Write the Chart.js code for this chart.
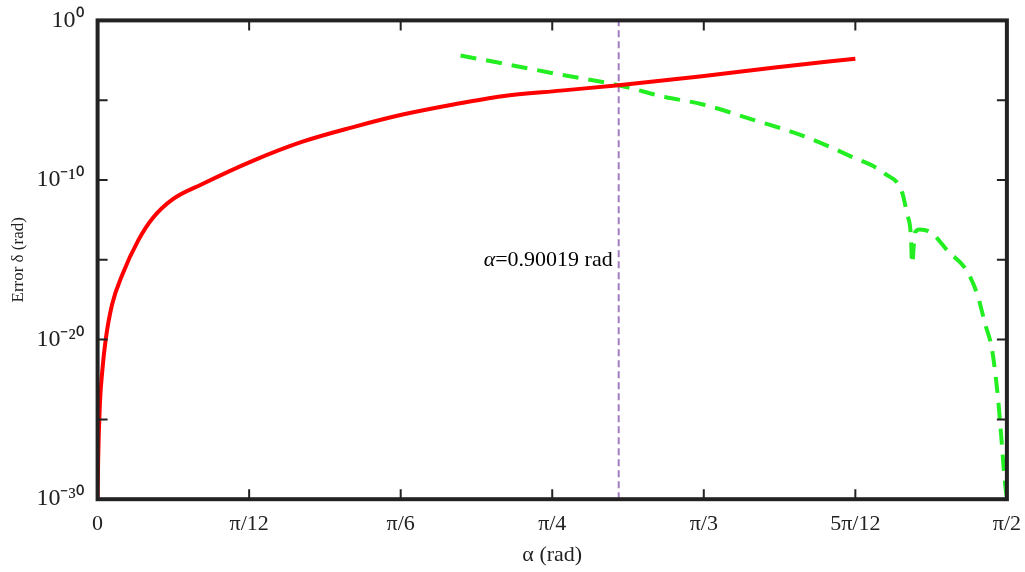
<!DOCTYPE html>
<html><head><meta charset="utf-8">
<script src="https://cdn.jsdelivr.net/npm/chart.js@4/dist/chart.umd.min.js"></script>
<style>html,body{margin:0;background:#fff}#wrap{width:1025px;height:572px}</style>
</head><body><div id="wrap"><canvas id="c"></canvas></div>
<script>
// alpha (rad) and log10(error)
const redAlpha = [0, 0.001, 0.004, 0.008, 0.014, 0.025, 0.043, 0.07, 0.095, 0.13, 0.181, 0.268, 0.354, 0.44, 0.527, 0.61, 0.699, 0.80, 0.900, 1.044, 1.17, 1.309];
const redLog = [-30, -27.5, -24, -22, -20, -17.8, -15.9, -13.8, -12.4, -11.2, -10.25, -8.8, -7.6, -6.7, -5.9, -5.3, -4.75, -4.4, -4.06, -3.5, -2.95, -2.4];
const greenAlpha = [0.627, 0.70, 0.80, 0.900, 0.98, 1.044, 1.13, 1.22, 1.30, 1.36, 1.39, 1.398, 1.405, 1.407, 1.412, 1.42, 1.44, 1.47, 1.50, 1.52, 1.533, 1.545, 1.555, 1.562, 1.566, 1.5708];
const greenLog = [-2.2, -2.7, -3.4, -4.06, -4.8, -5.25, -6.2, -7.25, -8.5, -9.6, -10.8, -12.1, -13.5, -15.25, -13.3, -13.1, -13.3, -14.5, -15.6, -17.2, -19.0, -20.6, -23.5, -26.5, -28.4, -30];
const alphaMark = 0.90019;
const xTickVals = [0, Math.PI/12, Math.PI/6, Math.PI/4, Math.PI/3, 5*Math.PI/12, Math.PI/2];
const xTickLabels = ['0', 'π/12', 'π/6', 'π/4', 'π/3', '5π/12', 'π/2'];
const yTickVals = [1e-30, 1e-20, 1e-10, 1];
const yTickLabels = {'-30': '10⁻³⁰', '-20': '10⁻²⁰', '-10': '10⁻¹⁰', '0': '10⁰'};
const yMinorVals = [1e-25, 1e-15, 1e-5];

const toPts = (xs, ls) => xs.map((x, i) => ({x: x, y: Math.pow(10, ls[i])}));
const serif = 'Liberation Serif';

const framePlugin = {
  id: 'frame',
  afterDraw(chart) {
    const {ctx, chartArea: a, scales} = chart;
    ctx.save();
    ctx.strokeStyle = '#222';
    ctx.lineWidth = 2;
    const L = 10;
    xTickVals.forEach(v => {
      const px = scales.x.getPixelForValue(v);
      ctx.beginPath(); ctx.moveTo(px, a.bottom); ctx.lineTo(px, a.bottom - L);
      ctx.moveTo(px, a.top); ctx.lineTo(px, a.top + L); ctx.stroke();
    });
    yTickVals.concat(yMinorVals).forEach(v => {
      const py = scales.y.getPixelForValue(v);
      ctx.beginPath(); ctx.moveTo(a.left, py); ctx.lineTo(a.left + L, py);
      ctx.moveTo(a.right, py); ctx.lineTo(a.right - L, py); ctx.stroke();
    });
    ctx.lineWidth = 4;
    ctx.strokeRect(a.left, a.top, a.right - a.left, a.bottom - a.top);
    // annotation
    const tx = scales.x.getPixelForValue(alphaMark) - 6;
    const ty = scales.y.getPixelForValue(1e-15);
    ctx.fillStyle = '#000';
    ctx.textBaseline = 'middle';
    ctx.textAlign = 'left';
    ctx.font = '22px "' + serif + '"';
    const rest = '=0.90019 rad';
    const wRest = ctx.measureText(rest).width;
    ctx.font = 'italic 22px "' + serif + '"';
    const wA = ctx.measureText('α').width;
    const sx = tx - wRest - wA;
    ctx.fillText('α', sx, ty);
    ctx.font = '22px "' + serif + '"';
    ctx.fillText(rest, sx + wA, ty);
    ctx.restore();
  }
};

new Chart(document.getElementById('c'), {
  type: 'scatter',
  data: {
    datasets: [
      {data: toPts(redAlpha, redLog), showLine: true, borderColor: '#ff0000', borderWidth: 4, pointRadius: 0, tension: 0.4, cubicInterpolationMode: 'monotone'},
      {data: toPts(greenAlpha, greenLog), showLine: true, borderColor: '#22ee22', borderWidth: 4, borderDash: [16, 10], pointRadius: 0, cubicInterpolationMode: 'monotone'},
      {data: [{x: alphaMark, y: 1e-30}, {x: alphaMark, y: 1}], showLine: true, borderColor: '#a07cc0', borderWidth: 2, borderDash: [7, 4], pointRadius: 0}
    ]
  },
  options: {
    responsive: true,
    maintainAspectRatio: false,
    animation: false,
    layout: {padding: {top: 14, right: 18, left: 4, bottom: 0}},
    plugins: {legend: {display: false}, tooltip: {enabled: false}},
    scales: {
      x: {
        type: 'linear', min: 0, max: Math.PI / 2,
        afterBuildTicks: s => { s.ticks = xTickVals.map(v => ({value: v})); },
        ticks: {callback: (v, i) => xTickLabels[i], color: '#222', font: {family: serif, size: 22}, maxRotation: 0, padding: 4},
        grid: {display: false},
        border: {display: false},
        title: {display: true, text: 'α (rad)', color: '#222', font: {family: serif, size: 22}, padding: {top: 0}}
      },
      y: {
        type: 'logarithmic', min: 1e-30, max: 1,
        afterBuildTicks: s => { s.ticks = yTickVals.map(v => ({value: v})); },
        ticks: {callback: v => yTickLabels[String(Math.round(Math.log10(v)))], color: '#222', font: {family: serif, size: 24}, padding: 6},
        grid: {display: false},
        border: {display: false},
        title: {display: true, text: 'Error δ (rad)', color: '#222', font: {family: serif, size: 17}, padding: {bottom: 2}}
      }
    }
  },
  plugins: [framePlugin]
});
</script></body></html>
